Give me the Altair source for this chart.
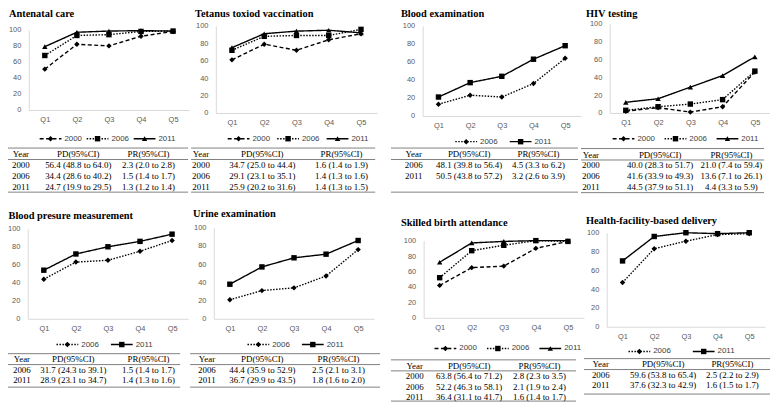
import altair as alt
import pandas as pd

QUINTILES = ["Q1", "Q2", "Q3", "Q4", "Q5"]
TABLE_HEADER = ["Year", "PD(95%CI)", "PR(95%CI)"]
YEARS3 = ["2000", "2006", "2011"]
YEARS2 = ["2006", "2011"]

# ---------------- data ----------------
antenatal_2000 = [51, 82, 80, 92, 98]
antenatal_2006 = [68, 93, 94, 98, 98.5]
antenatal_2011 = [79, 97, 98.5, 99, 98.5]
antenatal_pd = ["56.4 (48.8 to 64.0)", "34.4 (28.6 to 40.2)", "24.7 (19.9 to 29.5)"]
antenatal_pr = ["2.3 (2.0 to 2.8)", "1.5 (1.4 to 1.7)", "1.3 (1.2 to 1.4)"]

tetanus_2000 = [61, 79, 72, 84, 91]
tetanus_2006 = [72, 88, 89, 89, 96]
tetanus_2011 = [75, 91, 94, 95, 92]
tetanus_pd = ["34.7 (25.0 to 44.4)", "29.1 (23.1 to 35.1)", "25.9 (20.2 to 31.6)"]
tetanus_pr = ["1.6 (1.4 to 1.9)", "1.4 (1.3 to 1.6)", "1.4 (1.3 to 1.5)"]

blood_2006 = [13, 23, 21, 36, 64]
blood_2011 = [21, 37, 44, 63, 78]
blood_pd = ["48.1 (39.8 to 56.4)", "50.5 (43.8 to 57.2)"]
blood_pr = ["4.5 (3.3 to 6.2)", "3.2 (2.6 to 3.9)"]

hiv_2000 = [2, 6, 1, 7, 46]
hiv_2006 = [3, 7, 10, 15, 47]
hiv_2011 = [12, 16, 29, 42, 63]
hiv_pd = ["40.0 (28.3 to 51.7)", "41.6 (33.9 to 49.3)", "44.5 (37.9 to 51.1)"]
hiv_pr = ["21.0 (7.4 to 59.4)", "13.6 (7.1 to 26.1)", "4.4 (3.3 to 5.9)"]

bp_2006 = [44, 63, 65, 75, 87]
bp_2011 = [54, 72, 80, 86, 94]
bp_pd = ["31.7 (24.3 to 39.1)", "28.9 (23.1 to 34.7)"]
bp_pr = ["1.5 (1.4 to 1.7)", "1.4 (1.3 to 1.6)"]

urine_2006 = [21, 31, 34, 47, 76]
urine_2011 = [38, 57, 67, 71, 86]
urine_pd = ["44.4 (35.9 to 52.9)", "36.7 (29.9 to 43.5)"]
urine_pr = ["2.5 (2.1 to 3.1)", "1.8 (1.6 to 2.0)"]

skilled_2000 = [42, 65, 67, 90, 99]
skilled_2006 = [52, 87, 94, 100, 99]
skilled_2011 = [72, 97, 99, 100, 100]
skilled_pd = ["63.8 (56.4 to 71.2)", "52.2 (46.3 to 58.1)", "36.4 (31.1 to 41.7)"]
skilled_pr = ["2.8 (2.3 to 3.5)", "2.1 (1.9 to 2.4)", "1.6 (1.4 to 1.7)"]

facility_2006 = [47, 83, 91, 98, 99]
facility_2011 = [70, 96, 100, 99, 100]
facility_pd = ["59.6 (53.8 to 65.4)", "37.6 (32.3 to 42.9)"]
facility_pr = ["2.5 (2.2 to 2.9)", "1.6 (1.5 to 1.7)"]

PANELS = [
    dict(title="Antenatal care", years=YEARS3,
         series=[antenatal_2000, antenatal_2006, antenatal_2011], pd=antenatal_pd, pr=antenatal_pr),
    dict(title="Tetanus toxiod vaccination", years=YEARS3,
         series=[tetanus_2000, tetanus_2006, tetanus_2011], pd=tetanus_pd, pr=tetanus_pr),
    dict(title="Blood examination", years=YEARS2,
         series=[blood_2006, blood_2011], pd=blood_pd, pr=blood_pr),
    dict(title="HIV testing", years=YEARS3,
         series=[hiv_2000, hiv_2006, hiv_2011], pd=hiv_pd, pr=hiv_pr),
    dict(title="Blood presure measurement", years=YEARS2,
         series=[bp_2006, bp_2011], pd=bp_pd, pr=bp_pr),
    dict(title="Urine examination", years=YEARS2,
         series=[urine_2006, urine_2011], pd=urine_pd, pr=urine_pr),
    dict(title="Skilled birth attendance", years=YEARS3,
         series=[skilled_2000, skilled_2006, skilled_2011], pd=skilled_pd, pr=skilled_pr),
    dict(title="Health-facility-based delivery", years=YEARS2,
         series=[facility_2006, facility_2011], pd=facility_pd, pr=facility_pr),
]

# ---------------- layout (reference pixel frame) ----------------
LAYOUT = [
    dict(row=0, title=(7, 8), px=(27, 189), py=(104, 23), leg=(38, 47.5, 133),
         tab=(0, 188, (19, 77, 148), 148.5, 11, 3.5)),
    dict(row=0, title=(195, 5), px=(216, 379), py=(107, 19), leg=(228, 50, 133),
         tab=(191, 377, (201, 263, 343), 148.5, 11, 3.5)),
    dict(row=0, title=(403, 5), px=(425, 585), py=(110, 19), leg=(458, 55, 136),
         tab=(393, 582, (416, 472, 542), 148.5, 11, 3.5)),
    dict(row=0, title=(590, 7), px=(614, 777), py=(107, 17), leg=(617, 52.5, 133),
         tab=(585, 770, (595, 665, 737), 149, 11, 3.5)),
    dict(row=1, title=(5, 222), px=(26, 188), py=(326, 235), leg=(55, 55, 352),
         tab=(5, 180, (20, 72, 148), 367, 10.5, 2.67)),
    dict(row=1, title=(193, 220), px=(214, 376), py=(326, 234), leg=(248, 55, 352),
         tab=(190, 382, (207, 263, 340), 367, 10.5, 2.67)),
    dict(row=1, title=(403, 229), px=(426, 588), py=(325, 247), leg=(437, 53, 356),
         tab=(393, 580, (417, 472, 543), 373.3, 10.6, 3.38)),
    dict(row=1, title=(590, 227), px=(611, 771), py=(334, 239), leg=(633, 65, 359),
         tab=(588, 777, (605, 668, 738), 372, 10.5, 2.86)),
]

W, H = 770, 396
LEG_LEN = 22
AXIS_GRAY = "#d9d9d9"
LABEL_GRAY = "#595959"
SANS = "Liberation Sans"
SERIF = "Liberation Serif"

STYLE3 = [([4, 2.5], "diamond"), ([1.5, 1.5], "square"), ([1, 0], "triangle-up")]
STYLE2 = [([1.5, 1.5], "diamond"), ([1, 0], "square")]


def cx(x):
    return x - 6


def cy(y, row):
    return y - 3 if row == 0 else y - 14


def panel_layers(p, lay):
    row = lay["row"]
    years = p["years"]
    styles = STYLE3 if len(years) == 3 else STYLE2
    dash_scale = alt.Scale(domain=years, range=[s[0] for s in styles])
    shape_scale = alt.Scale(domain=years, range=[s[1] for s in styles])

    # ---- plot ----
    rows = []
    for yr, vals in zip(years, p["series"]):
        for q, v in zip(QUINTILES, vals):
            rows.append({"q": q, "year": yr, "v": v})
    df = pd.DataFrame(rows)
    x0, x1 = lay["px"]
    y0, y100 = lay["py"]
    X = alt.X("q:N", sort=QUINTILES,
              scale=alt.Scale(type="point", domain=QUINTILES, range=[cx(x0), cx(x1)], padding=0.5),
              axis=alt.Axis(orient="bottom", offset=cy(y0, row) - H, title=None, ticks=False,
                            tickSize=0, grid=False, labelAngle=0, labelPadding=6,
                            domainColor=AXIS_GRAY, domainWidth=1, labelFont=SANS,
                            labelFontSize=7.5, labelColor=LABEL_GRAY))
    Y = alt.Y("v:Q",
              scale=alt.Scale(domain=[0, 100], range=[cy(y0, row), cy(y100, row)], nice=False),
              axis=alt.Axis(orient="left", offset=-cx(x0), title=None, ticks=False, tickSize=0,
                            grid=False, values=[0, 20, 40, 60, 80, 100], labelPadding=8,
                            labelFlush=False, labelOverlap=False,
                            domainColor=AXIS_GRAY, domainWidth=1, labelFont=SANS,
                            labelFontSize=7.5, labelColor=LABEL_GRAY))
    base = alt.Chart(df)
    lines = base.mark_line(color="black", strokeWidth=1.4).encode(
        x=X, y=Y, strokeDash=alt.StrokeDash("year:N", scale=dash_scale, legend=None))
    points = base.mark_point(filled=True, color="black", opacity=1, size=30).encode(
        x=X, y=Y, shape=alt.Shape("year:N", scale=shape_scale, legend=None))
    plot = alt.layer(lines, points)

    # ---- legend ----
    ls, lp, ly = lay["leg"]
    ldf = pd.DataFrame({"year": years, "i": list(range(len(years)))})
    LX = alt.X("i:Q", scale=alt.Scale(domain=[0, 1], range=[cx(ls), cx(ls + lp)], nice=False, zero=False),
               axis=None)
    lyc = cy(ly, row)
    lbase = alt.Chart(ldf)
    l_rule = lbase.mark_rule(color="black", strokeWidth=1.4, x2Offset=LEG_LEN).encode(
        x=LX, x2="i:Q", y=alt.value(lyc),
        strokeDash=alt.StrokeDash("year:N", scale=dash_scale, legend=None))
    l_pt = lbase.mark_point(filled=True, color="black", opacity=1, size=30, xOffset=LEG_LEN / 2).encode(
        x=LX, y=alt.value(lyc), shape=alt.Shape("year:N", scale=shape_scale, legend=None))
    l_tx = lbase.mark_text(align="left", baseline="middle", dx=LEG_LEN + 3, font=SANS,
                           fontSize=8, color="#404040").encode(
        x=LX, y=alt.value(lyc), text="year:N")
    legend = alt.layer(l_rule, l_pt, l_tx)

    # ---- table ----
    tl, tr, cols, hc, rh, bot = lay["tab"]
    fr = [(c - tl) / (tr - tl) for c in cols]
    trows = [{"ri": 0, "f": fr[j], "t": TABLE_HEADER[j]} for j in range(3)]
    for k, (yr, pdv, prv) in enumerate(zip(years, p["pd"], p["pr"])):
        for j, t in enumerate([yr, pdv, prv]):
            trows.append({"ri": k + 1, "f": fr[j], "t": t})
    tdf = pd.DataFrame(trows)
    tx_scale = alt.Scale(domain=[0, 1], range=[cx(tl), cx(tr)], nice=False, zero=False)
    ty_scale = alt.Scale(domain=[0, 1], range=[cy(hc, row), cy(hc + rh, row)], nice=False, zero=False)
    t_text = alt.Chart(tdf).mark_text(font=SERIF, fontSize=9, color="black", align="center",
                                      baseline="middle").encode(
        x=alt.X("f:Q", scale=tx_scale, axis=None),
        y=alt.Y("ri:Q", scale=ty_scale, axis=None),
        text="t:N")
    rdf = pd.DataFrame({"ri": [-0.55, 0.5, bot], "a": [0, 0, 0], "b": [1, 1, 1]})
    t_rules = alt.Chart(rdf).mark_rule(color="#808080", strokeWidth=1).encode(
        x=alt.X("a:Q", scale=tx_scale, axis=None), x2="b:Q",
        y=alt.Y("ri:Q", scale=ty_scale, axis=None))
    table = alt.layer(t_rules, t_text)

    # ---- title ----
    tx, ty = lay["title"]
    ty_c = 4.5 if row == 0 else cy(ty, row)
    title = alt.Chart(pd.DataFrame({"t": [p["title"]]})).mark_text(
        align="left", baseline="middle", font=SERIF, fontWeight="bold", fontSize=10.5,
        color="black").encode(
        x=alt.value(max(cx(tx), 0.5)), y=alt.value(ty_c), text="t:N")

    return [plot, legend, table, title]


layers = []
for p, lay in zip(PANELS, LAYOUT):
    layers.extend(panel_layers(p, lay))

chart = alt.layer(*layers).resolve_scale(
    x="independent", y="independent", shape="independent", strokeDash="independent"
).resolve_axis(x="independent", y="independent").properties(
    width=W, height=H, padding=0, autosize=alt.AutoSizeParams(type="none")
).configure_view(strokeWidth=0)

chart.save("out.html", embed_options={"renderer": "svg", "actions": False})
